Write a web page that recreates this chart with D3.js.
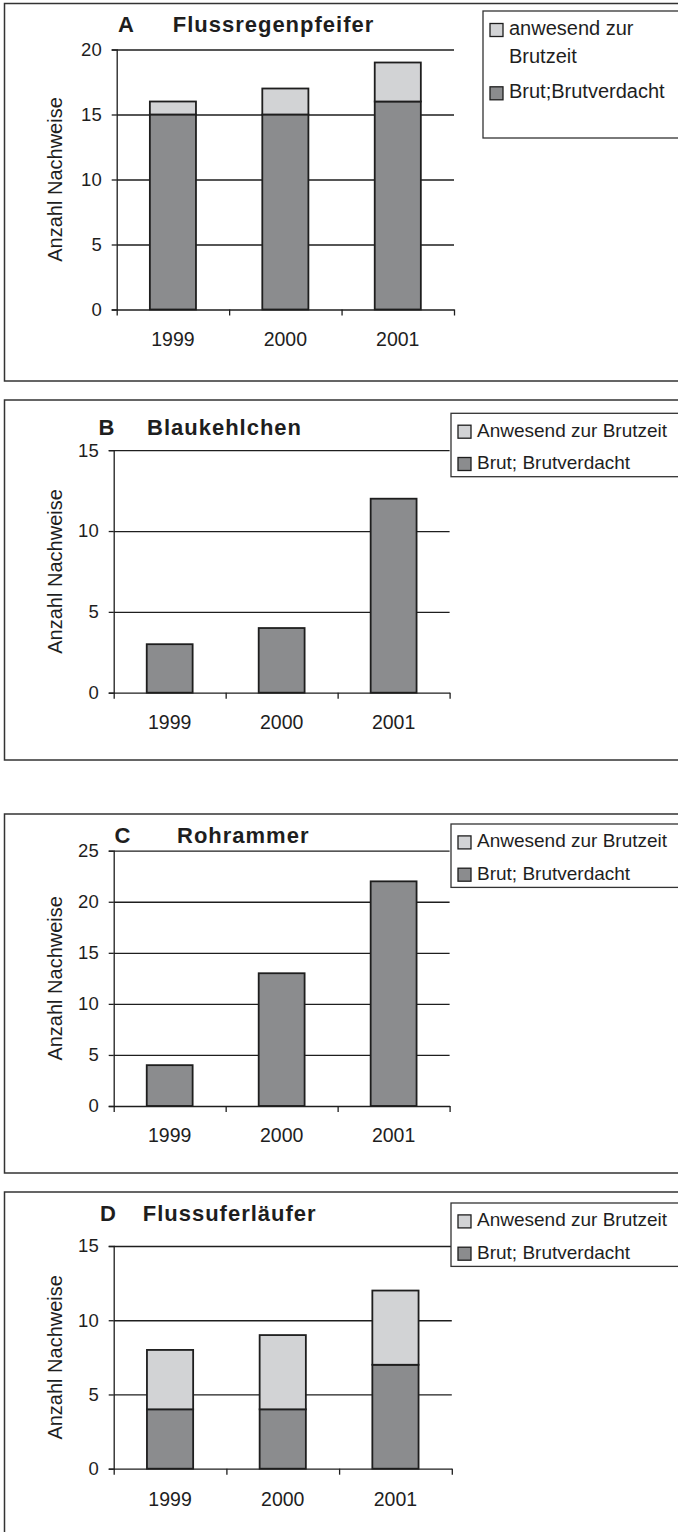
<!DOCTYPE html>
<html>
<head>
<meta charset="utf-8">
<script src="https://cdn.jsdelivr.net/npm/d3@7"></script>
<style>
  body { margin: 0; background: #fff; }
  svg { display: block; font-family: "Liberation Sans", Arial, sans-serif; }
</style>
</head>
<body>
<div id="viz"></div>
<script>
// values
const years = ['1999', '2000', '2001'];

const brutA = [15, 15, 16];
const anwesendA = [1, 2, 3];
const brutB = [3, 4, 12];
const anwesendB = [0, 0, 0];
const brutC = [4, 13, 22];
const anwesendC = [0, 0, 0];
const brutD = [4, 4, 7];
const anwesendD = [4, 5, 5];

const ticksA = [0, 5, 10, 15, 20];
const ticksB = [0, 5, 10, 15];
const ticksC = [0, 5, 10, 15, 20, 25];
const ticksD = [0, 5, 10, 15];

const letters = ['A', 'B', 'C', 'D'];
const species = ['Flussregenpfeifer', 'Blaukehlchen', 'Rohrammer', 'Flussuferläufer'];
const yLabel = 'Anzahl Nachweise';
const legendAnwesendA = ['anwesend zur', 'Brutzeit'];
const legendBrutA = ['Brut;Brutverdacht'];
const legendAnwesend = ['Anwesend zur Brutzeit'];
const legendBrut = ['Brut; Brutverdacht'];

const colorBrut = '#8b8c8e';
const colorAnwesend = '#d2d3d5';
const ink = '#1e1e1e';

// page layout for the four panels
const layout = [
  { frameTop: 3.5, frameBottom: 381, x0: 116.7, x1: 454, yTop: 49.5, yZero: 309.5, titleY: 31.7,
    letterX: 118, nameX: 172.7, yearY: 345.5, legend: { x: 483, y: 11, h: 127, fs: 20, rows: [35, 98.3], extra: 63.3 } },
  { frameTop: 400, frameBottom: 760, x0: 113.7, x1: 449.6, yTop: 450.2, yZero: 692.7, titleY: 434.5,
    letterX: 98.6, nameX: 147, yearY: 729, legend: { x: 451, y: 413.3, h: 63.4, fs: 19, rows: [436.7, 469] } },
  { frameTop: 814, frameBottom: 1173, x0: 113.7, x1: 449.6, yTop: 850.7, yZero: 1106, titleY: 842.5,
    letterX: 114.6, nameX: 177, yearY: 1142, legend: { x: 451, y: 824, h: 63.4, fs: 19, rows: [847.4, 879.7] } },
  { frameTop: 1192, frameBottom: 1600, x0: 113.7, x1: 451.8, yTop: 1246, yZero: 1468.7, titleY: 1220.5,
    letterX: 100, nameX: 142.7, yearY: 1506, legend: { x: 451, y: 1203, h: 63.4, fs: 19, rows: [1226.4, 1258.7] } }
];

const panelData = [
  { brut: brutA, anwesend: anwesendA, ticks: ticksA, legendTexts: [legendAnwesendA, legendBrutA] },
  { brut: brutB, anwesend: anwesendB, ticks: ticksB, legendTexts: [legendAnwesend, legendBrut] },
  { brut: brutC, anwesend: anwesendC, ticks: ticksC, legendTexts: [legendAnwesend, legendBrut] },
  { brut: brutD, anwesend: anwesendD, ticks: ticksD, legendTexts: [legendAnwesend, legendBrut] }
];

const svg = d3.select('#viz')
  .append('svg')
  .attr('width', 678)
  .attr('height', 1532);

const drawPanel = (d, L, i) => {
  const g = svg.append('g');

  // outer frame (right side runs off the page)
  g.append('rect')
    .attr('x', 4.5)
    .attr('y', L.frameTop)
    .attr('width', 800)
    .attr('height', L.frameBottom - L.frameTop)
    .attr('fill', 'none')
    .attr('stroke', '#333')
    .attr('stroke-width', 1.5);

  const rows = years.map((year, j) => ({ year, brut: d.brut[j], anwesend: d.anwesend[j] }));
  const yMax = d3.max(d.ticks);

  const x = d3.scaleBand()
    .domain(years)
    .range([L.x0, L.x1])
    .paddingInner(0.59)
    .paddingOuter(0.295);

  const xEdges = d3.scaleLinear()
    .domain([0, years.length])
    .range([L.x0, L.x1]);

  const y = d3.scaleLinear()
    .domain([0, yMax])
    .range([L.yZero, L.yTop]);

  // gridlines
  g.append('g')
    .attr('transform', `translate(${L.x0},0)`)
    .call(d3.axisLeft(y).tickValues(d.ticks.filter(t => t > 0)).tickSize(-(L.x1 - L.x0)).tickFormat(''))
    .call(s => s.select('.domain').remove())
    .call(s => s.selectAll('line').attr('stroke', ink).attr('stroke-width', 1.3));

  // stacked bars
  const series = d3.stack().keys(['brut', 'anwesend'])(rows);
  const fills = { brut: colorBrut, anwesend: colorAnwesend };

  series.forEach(s => {
    g.append('g')
      .selectAll('rect')
      .data(s.filter(v => v[1] > v[0]))
      .enter()
      .append('rect')
      .attr('x', v => x(v.data.year))
      .attr('width', x.bandwidth())
      .attr('y', v => y(v[1]))
      .attr('height', v => y(v[0]) - y(v[1]))
      .attr('fill', fills[s.key])
      .attr('stroke', ink)
      .attr('stroke-width', 1.8);
  });

  // y axis
  g.append('g')
    .attr('transform', `translate(${L.x0},0)`)
    .call(d3.axisLeft(y).tickValues(d.ticks).tickSize(5).tickPadding(10).tickFormat(d3.format('d')))
    .call(s => s.select('.domain').attr('stroke', ink).attr('stroke-width', 1.3))
    .call(s => s.selectAll('line').attr('stroke', ink).attr('stroke-width', 1.3))
    .call(s => s.selectAll('text').attr('font-size', 18.5).attr('fill', ink).attr('font-family', null));

  // x axis with ticks between categories
  g.append('g')
    .attr('transform', `translate(0,${L.yZero})`)
    .call(d3.axisBottom(xEdges).tickValues(d3.range(years.length + 1)).tickSize(6).tickSizeOuter(0).tickFormat(''))
    .call(s => s.select('.domain').attr('stroke', ink).attr('stroke-width', 1.3))
    .call(s => s.selectAll('line').attr('stroke', ink).attr('stroke-width', 1.3));

  g.append('g')
    .selectAll('text')
    .data(years)
    .enter()
    .append('text')
    .attr('x', v => x(v) + x.bandwidth() / 2)
    .attr('y', L.yearY)
    .attr('text-anchor', 'middle')
    .attr('font-size', 19.5)
    .attr('fill', ink)
    .text(v => v);

  // axis title
  g.append('text')
    .attr('transform', `translate(61.5,${(L.yTop + L.yZero) / 2}) rotate(-90)`)
    .attr('text-anchor', 'middle')
    .attr('font-size', 20)
    .attr('fill', ink)
    .text(yLabel);

  // panel title
  g.append('text')
    .attr('x', L.letterX)
    .attr('y', L.titleY)
    .attr('font-size', 22)
    .attr('font-weight', 'bold')
    .attr('fill', ink)
    .text(letters[i]);

  g.append('text')
    .attr('x', L.nameX)
    .attr('y', L.titleY)
    .attr('font-size', 22)
    .attr('font-weight', 'bold')
    .attr('letter-spacing', 1.0)
    .attr('fill', ink)
    .text(species[i]);

  // legend
  const lg = L.legend;
  g.append('rect')
    .attr('x', lg.x)
    .attr('y', lg.y)
    .attr('width', 300)
    .attr('height', lg.h)
    .attr('fill', '#fff')
    .attr('stroke', '#333')
    .attr('stroke-width', 1.3);

  const items = [
    { fill: colorAnwesend, lines: d.legendTexts[0] },
    { fill: colorBrut, lines: d.legendTexts[1] }
  ];

  items.forEach((item, k) => {
    const base = lg.rows[k];
    g.append('rect')
      .attr('x', lg.x + 7)
      .attr('y', base - 11.5)
      .attr('width', 13)
      .attr('height', 13)
      .attr('fill', item.fill)
      .attr('stroke', ink)
      .attr('stroke-width', 1.3);

    item.lines.forEach((line, m) => {
      g.append('text')
        .attr('x', lg.x + 26)
        .attr('y', m === 0 ? base : lg.extra)
        .attr('font-size', lg.fs)
        .attr('fill', ink)
        .text(line);
    });
  });
};

panelData.forEach((d, i) => drawPanel(d, layout[i], i));
</script>
</body>
</html>
